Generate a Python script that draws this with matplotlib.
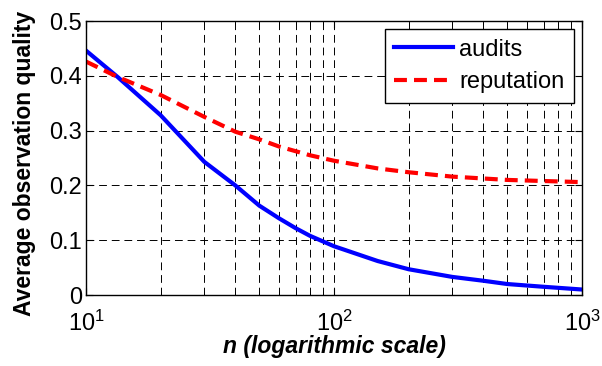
import numpy as np
import matplotlib
matplotlib.use("Agg")
import matplotlib.pyplot as plt
from matplotlib.ticker import LogLocator, NullFormatter

# values
n_audits = [10, 13.4, 20, 30, 40, 50, 60, 70, 80, 90, 100, 150, 200, 300,
            400, 500, 700, 1000]
audits = [0.446, 0.398, 0.328, 0.243, 0.200, 0.163, 0.140, 0.122, 0.108,
          0.098, 0.089, 0.062, 0.047, 0.033, 0.026, 0.020, 0.015, 0.010]
n_reputation = [10, 13.4, 20, 30, 40, 50, 60, 80, 100, 150, 200, 300, 500,
                700, 1000]
reputation = [0.426, 0.398, 0.365, 0.325, 0.298, 0.284, 0.271, 0.255, 0.245,
              0.231, 0.224, 0.216, 0.210, 0.208, 0.206]
y_ticks = [0, 0.1, 0.2, 0.3, 0.4, 0.5]
y_tick_labels = ["0", "0.1", "0.2", "0.3", "0.4", "0.5"]

plt.rcParams['font.family'] = ['Liberation Sans', 'DejaVu Sans']
plt.rcParams['mathtext.fontset'] = 'custom'
plt.rcParams['mathtext.rm'] = 'Liberation Sans'
plt.rcParams['mathtext.it'] = 'Liberation Sans:italic'

fig = plt.figure(figsize=(6.02, 3.66), dpi=100)
ax = fig.add_axes([86 / 602, 1 - 295 / 366, (582 - 86) / 602, (295 - 21) / 366])

ax.plot(n_audits, audits, color='blue', lw=3, label='audits')
ax.plot(n_reputation, reputation, color='red', lw=3, dashes=(3.1, 1.7),
        label='reputation')

ax.set_xscale('log')
ax.set_xlim(10, 1000)
ax.set_ylim(0, 0.5)
ax.set_yticks(y_ticks)
ax.set_yticklabels(y_tick_labels)
ax.xaxis.set_major_locator(LogLocator(base=10, numticks=5))
ax.xaxis.set_minor_locator(LogLocator(base=10, subs=np.arange(2, 10), numticks=20))
ax.xaxis.set_minor_formatter(NullFormatter())

# MATLAB style dashed grid
grid_style = dict(color='black', ls=(0, (8, 5)), lw=0.7)
ax.grid(True, which='both', axis='x', **grid_style)
ax.grid(True, which='major', axis='y', **grid_style)

ax.tick_params(which='both', direction='in', top=True, right=True,
               labelsize=17)
ax.tick_params(axis='y', pad=3)
ax.tick_params(axis='x', pad=11)
ax.tick_params(which='major', length=5)
ax.tick_params(which='minor', length=3)
for sp in ax.spines.values():
    sp.set_linewidth(1.0)

ax.set_xlabel('n (logarithmic scale)', fontsize=16.5, fontweight='bold',
              fontstyle='italic', labelpad=0)
ax.set_ylabel('Average observation quality', fontsize=16.5, fontweight='bold')
ax.yaxis.set_label_coords(-0.1, 0.48)

leg = ax.legend(loc='upper right', fontsize=17, handlelength=2.5,
                fancybox=False, framealpha=1, edgecolor='black',
                borderaxespad=0.35, borderpad=0.4, labelspacing=0.45,
                handletextpad=0.25)
leg.get_frame().set_linewidth(1.0)

fig.savefig('out.png', dpi=100)
